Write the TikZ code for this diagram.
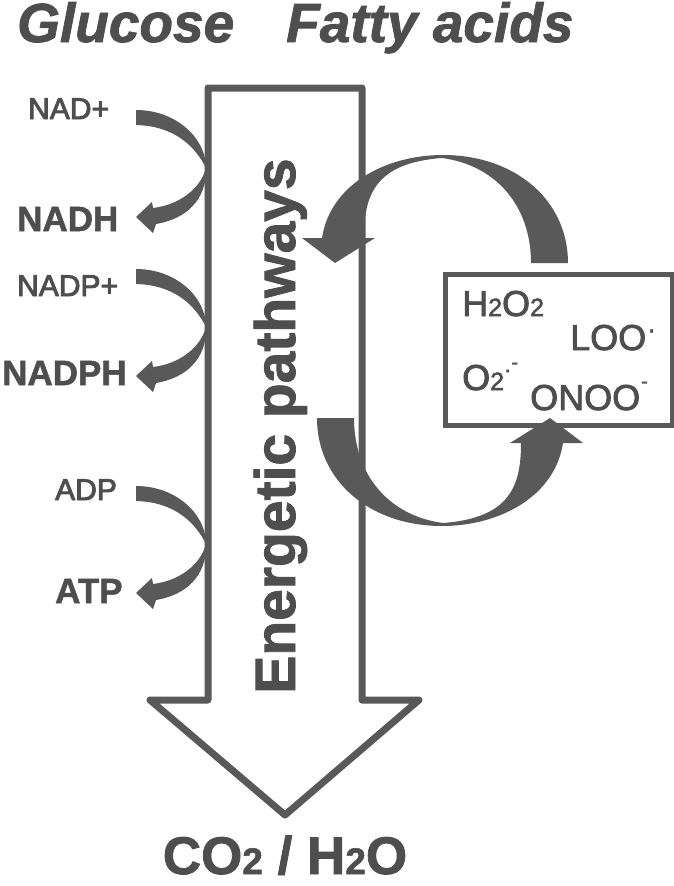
\documentclass[tikz,border=0pt]{standalone}
\usepackage{fontspec}
\setmainfont{Liberation Sans}
\newfontfamily\heavyA[FakeBold=3]{Liberation Sans}
\newfontfamily\heavyB[FakeBold=1.5]{Liberation Sans}
\newfontfamily\heavyC[FakeBold=2.2]{Liberation Sans}
\definecolor{fillgray}{RGB}{89,89,89}
\definecolor{txtgray}{RGB}{78,78,78}
\newcommand{\smtwo}[1]{{\fontsize{#1}{#1}\selectfont 2}}
\newcommand{\supmark}[3]{\raisebox{#1pt}{\fontsize{#2}{#2}\selectfont #3}}
\begin{document}
\begin{tikzpicture}[x=1pt,y=-1pt,
  titletxt/.style={font=\heavyB\fontsize{55}{60}\selectfont\bfseries\itshape, text=txtgray, inner sep=0, anchor=base west},
  reactant/.style={font=\heavyA\fontsize{30}{32}\selectfont, text=txtgray, inner sep=0, anchor=base west},
  product/.style={font=\heavyB\fontsize{35}{38}\selectfont\bfseries, text=txtgray, inner sep=0, anchor=base west},
  rostxt/.style={font=\heavyC\fontsize{36}{38}\selectfont, text=txtgray, inner sep=0, anchor=base west},
  bigarrow/.style={draw=fillgray, line width=7, line join=round, fill=white},
  rosbox/.style={draw=fillgray, line width=5, inner sep=0, anchor=north west, minimum width=227.5, minimum height=151},
  redox/.pic={
    \fill[fillgray] (0,-8) .. controls (40,-8) and (70,20) .. (70,50)
        .. controls (60,30) and (40,8) .. (0,7) -- cycle;
    \fill[fillgray] (70,50) .. controls (71,82) and (50,101) .. (20,106)
        -- (17,115) -- (0,99) -- (16,84) -- (17,90)
        .. controls (42,87) and (64,72) .. (70,50) -- cycle;
  },
  feedback/.style={fill=fillgray}
]
\useasboundingbox (0,0) rectangle (673,886);

% big arrow
\draw[bigarrow] (208,88) -- (362,88) -- (362,700) -- (419,700) -- (285,815)
  -- (150,700) -- (208,700) -- cycle;

% redox crescents
\pic at (136,118) {redox};
\pic at (136,277) {redox};
\pic at (136,494) {redox};

% feedback arrows
\path[feedback] (531,263) -- (568,263) .. controls (568,200) and (515,155) .. (443,155)
  .. controls (385,155) and (330,185) .. (322,238) -- (302,238) -- (335,263) -- (375,238) -- (364,238)
  .. controls (364,195) and (375,163) .. (442,158)
  .. controls (495,165) and (531,205) .. (531,263) -- cycle;
\begin{scope}[rotate around={180:(442.5,340.5)}]
\path[feedback] (531,263) -- (568,263) .. controls (568,200) and (515,155) .. (443,155)
  .. controls (385,155) and (330,185) .. (322,238) -- (302,238) -- (335,263) -- (375,238) -- (364,238)
  .. controls (364,195) and (375,163) .. (442,158)
  .. controls (495,165) and (531,205) .. (531,263) -- cycle;
\end{scope}

% ROS box
\node[rosbox] (box) at (442.5,271.5) {};
\node[rostxt] (h2o2) at (462,316) {H\smtwo{25}O\smtwo{25}};
\node[rostxt] (loo) at (570,350) {LOO\kern1pt\supmark{12}{26}{·}};
\node[rostxt] (o2) at (462,390) {O\smtwo{25}\supmark{13}{22}{·}\supmark{21}{20}{-}};
\node[rostxt] (onoo) at (530,410) {ONOO\kern1pt\supmark{22}{20}{-}};

% titles
\node[titletxt] (glc) at (17,42) {Glucose};
\node[titletxt] (fa) at (286,42) {Fatty acids};

% left labels
\node[reactant] (nadp) at (28,119) {NAD+};
\node[product] (nadh) at (17,231) {NADH};
\node[reactant] (nadpp) at (17,296) {NADP+};
\node[product] (nadph) at (2,385) {NADPH};
\node[reactant] (adp) at (55,500) {ADP};
\node[product] (atp) at (55,603) {ATP};

% pathway label
\node[font=\heavyB\fontsize{57}{60}\selectfont\bfseries, text=txtgray, inner sep=0, rotate=90, anchor=base] (path) at (295,426) {Energetic pathways};

% products
\node[font=\heavyB\fontsize{53}{58}\selectfont\bfseries, text=txtgray, inner sep=0, anchor=base] (co2) at (285,874) {CO\smtwo{37} / H\smtwo{37}O};
\end{tikzpicture}
\end{document}
